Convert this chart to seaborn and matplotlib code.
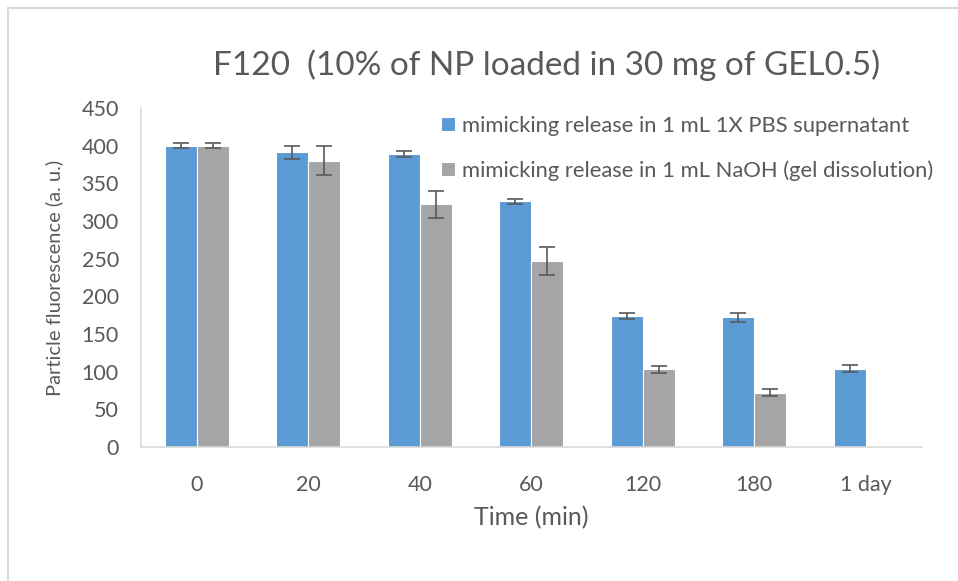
import numpy as np
import pandas as pd
import matplotlib
matplotlib.use("Agg")
import matplotlib.pyplot as plt
import seaborn as sns
from matplotlib.ticker import FixedLocator, NullFormatter
from matplotlib.patches import Rectangle

categories = ["0", "20", "40", "60", "120", "180", "1 day"]
series_names = ["mimicking release in 1 mL 1X PBS supernatant",
                "mimicking release in 1 mL NaOH (gel dissolution)"]
pbs_values = [400, 391, 389, 326, 174, 172, 104]
pbs_errors = [3.5, 8.5, 4, 3.5, 4, 6, 4.5]
naoh_values = [400, 380, 322, 247, 103, 72, np.nan]
naoh_errors = [3.5, 19, 18, 19, 4.5, 4.5, np.nan]
yticks = [0, 50, 100, 150, 200, 250, 300, 350, 400, 450]

title = "F120  (10% of NP loaded in 30 mg of GEL0.5)"
xlabel = "Time (min)"
ylabel = "Particle fluorescence (a. u.)"

colors = ["#5B9BD5", "#A5A5A5"]
FONT = ["Lato", "DejaVu Sans"]
TXT = "#595959"

df = pd.DataFrame({
    "Time": categories * 2,
    "Series": [series_names[0]] * len(categories) + [series_names[1]] * len(categories),
    "Value": pbs_values + naoh_values,
})
errs = {series_names[0]: pbs_errors, series_names[1]: naoh_errors}

sns.set_style("white")
plt.rcParams["font.family"] = FONT

fig = plt.figure(figsize=(9.58, 5.81), dpi=100)
ax = fig.add_axes([141 / 958, 1 - 447 / 581, (921.5 - 141) / 958, (447 - 108) / 581])

sns.barplot(data=df, x="Time", y="Value", hue="Series", order=categories,
            hue_order=series_names, palette=colors, width=0.57, ax=ax,
            edgecolor="white", linewidth=0.8, errorbar=None, saturation=1)

# error bars
for cont, name in zip(ax.containers, series_names):
    e = errs[name]
    for p in cont.patches:
        h = p.get_height()
        if not np.isfinite(h) or h == 0:
            continue
        xc = p.get_x() + p.get_width() / 2
        i = int(round(xc))
        if not np.isfinite(e[i]):
            continue
        ax.errorbar(xc, h, yerr=e[i], fmt="none", ecolor="#595959",
                    elinewidth=1.2, capsize=6, capthick=1.2, zorder=5)

ax.set_xlim(-0.5, len(categories) - 0.5)
ax.set_ylim(0, 450)
ax.set_yticks(yticks)
ax.set_yticklabels([str(v) for v in yticks])

for s in ["top", "right"]:
    ax.spines[s].set_visible(False)
for s in ["left", "bottom"]:
    ax.spines[s].set_visible(True)
    ax.spines[s].set_color("#D9D9D9")
    ax.spines[s].set_linewidth(1.2)

ax.tick_params(axis="y", length=0, pad=16, labelsize=15.5, labelcolor=TXT)
ax.tick_params(axis="x", which="major", length=0, pad=20, labelsize=15.5, labelcolor=TXT)
ax.xaxis.set_minor_locator(FixedLocator(np.arange(-0.5, len(categories), 1.0)))
ax.xaxis.set_minor_formatter(NullFormatter())
ax.tick_params(axis="x", which="minor", length=6, width=1.2, color="#D9D9D9", direction="out")

ax.set_xlabel(xlabel, fontsize=18, color=TXT, labelpad=8)
ax.set_ylabel(ylabel, fontsize=14.5, color=TXT, labelpad=13)

fig.text(547 / 958, 1 - 65 / 581, title, ha="center", va="center",
         fontsize=24, color=TXT)

leg = ax.legend(loc="upper left", bbox_to_anchor=(441 / 958, 1 - 116 / 581),
                bbox_transform=fig.transFigure, frameon=False, fontsize=15.8,
                handlelength=0.62, handleheight=0.62, handletextpad=0.35,
                labelspacing=1.1, borderaxespad=0, borderpad=0)
for t in leg.get_texts():
    t.set_color(TXT)

# outer chart border
fig.patches.append(Rectangle((8 / 958, -0.1), 2, 1 - 8 / 581 + 0.1,
                             transform=fig.transFigure, fill=False,
                             edgecolor="#D9D9D9", linewidth=1.5))

fig.savefig("out.png", dpi=100)
